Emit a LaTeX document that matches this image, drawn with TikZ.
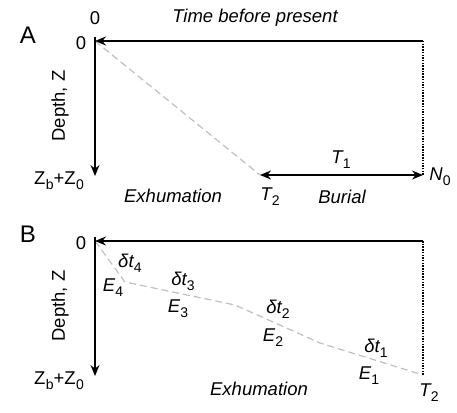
\documentclass[tikz,border=0pt]{standalone}
\usepackage{fontspec}
\setmainfont{Liberation Sans}
\usetikzlibrary{arrows.meta}
\newcommand{\sbs}[2]{#1\kern0.3pt\raisebox{-0.28em}{\fontsize{14}{14}\selectfont\upshape #2}}
\begin{document}
\begin{tikzpicture}[x=1pt,y=-1pt,
  lab/.style={inner sep=0pt,font=\fontsize{18.5}{20}\selectfont},
  ilab/.style={inner sep=0pt,font=\fontsize{18.5}{20}\selectfont\itshape},
  panel/.style={inner sep=0pt,font=\fontsize{24}{26}\selectfont},
  axis/.style={line width=1.5pt,-{Stealth[length=11pt,width=9pt]}},
  dbl/.style={line width=1.5pt,{Stealth[length=11pt,width=9pt]}-{Stealth[length=11pt,width=9pt]}},
  dots/.style={line width=1.2pt,dash pattern=on 1.5pt off 1.2pt},
  path/.style={line width=1.2pt,color=black!25,dash pattern=on 7pt off 4pt}]
\useasboundingbox (0,0) rectangle (457,412);
% ---------- Panel A ----------
\coordinate (A0) at (95,41);
\coordinate (Atop) at (95,37);
\coordinate (Aend) at (423,41);
\coordinate (Abot) at (95,176);
\coordinate (AT2) at (260,175);
\coordinate (AN0) at (423,175);
\draw[path] (A0) -- (AT2);
\draw[axis] (Aend) -- (A0);
\draw[axis] (Atop) -- (Abot);
\draw[dots] (Aend) -- (AN0);
\draw[dbl] (AN0) -- (AT2);
\node[panel] (pA) at (28,35) {A};
\node[lab] (a0t) at (95,18) {0};
\node[lab] (a0l) at (81,43) {0};
\node[ilab] (time) at (255,18) {Time before present};
\node[lab,rotate=90] (depA) at (60,106) {Depth, Z};
\node[lab] (zbA) at (59,181) {\sbs{Z}{b}+\sbs{Z}{0}};
\node[ilab] (exA) at (173,196) {Exhumation};
\node[lab] (t2A) at (270,197) {\sbs{\itshape T}{2}};
\node[lab] (t1A) at (341,160) {\sbs{\itshape T}{1}};
\node[ilab] (bur) at (342,197) {Burial};
\node[lab] (n0A) at (440,177) {\sbs{\itshape N}{0}};
% ---------- Panel B ----------
\coordinate (B0) at (95,241);
\coordinate (Btop) at (95,237);
\coordinate (Bend) at (423,241);
\coordinate (Bbot) at (95,376);
\coordinate (BT2) at (423,375);
\coordinate (K4) at (125,282);
\coordinate (K3) at (235,305);
\coordinate (K2) at (320,343);
\draw[path] (B0) -- (K4) -- (K3) -- (K2) -- (BT2);
\draw[axis] (Bend) -- (B0);
\draw[axis] (Btop) -- (Bbot);
\draw[dots] (Bend) -- (BT2);
\node[panel] (pB) at (28,234) {B};
\node[lab] (b0l) at (81,243) {0};
\node[lab,rotate=90] (depB) at (60,306) {Depth, Z};
\node[lab] (zbB) at (59,381) {\sbs{Z}{b}+\sbs{Z}{0}};
\node[lab] (dt4) at (130,263) {\sbs{\itshape δt}{4}};
\node[lab] (e4) at (113,288) {\sbs{\itshape E}{4}};
\node[lab] (dt3) at (183,281) {\sbs{\itshape δt}{3}};
\node[lab] (e3) at (178,309) {\sbs{\itshape E}{3}};
\node[lab] (dt2) at (278,309) {\sbs{\itshape δt}{2}};
\node[lab] (e2) at (273,338) {\sbs{\itshape E}{2}};
\node[lab] (dt1) at (376,348) {\sbs{\itshape δt}{1}};
\node[lab] (e1) at (369,376) {\sbs{\itshape E}{1}};
\node[ilab] (exB) at (259,389) {Exhumation};
\node[lab] (t2B) at (429,393) {\sbs{\itshape T}{2}};
\end{tikzpicture}
\end{document}
